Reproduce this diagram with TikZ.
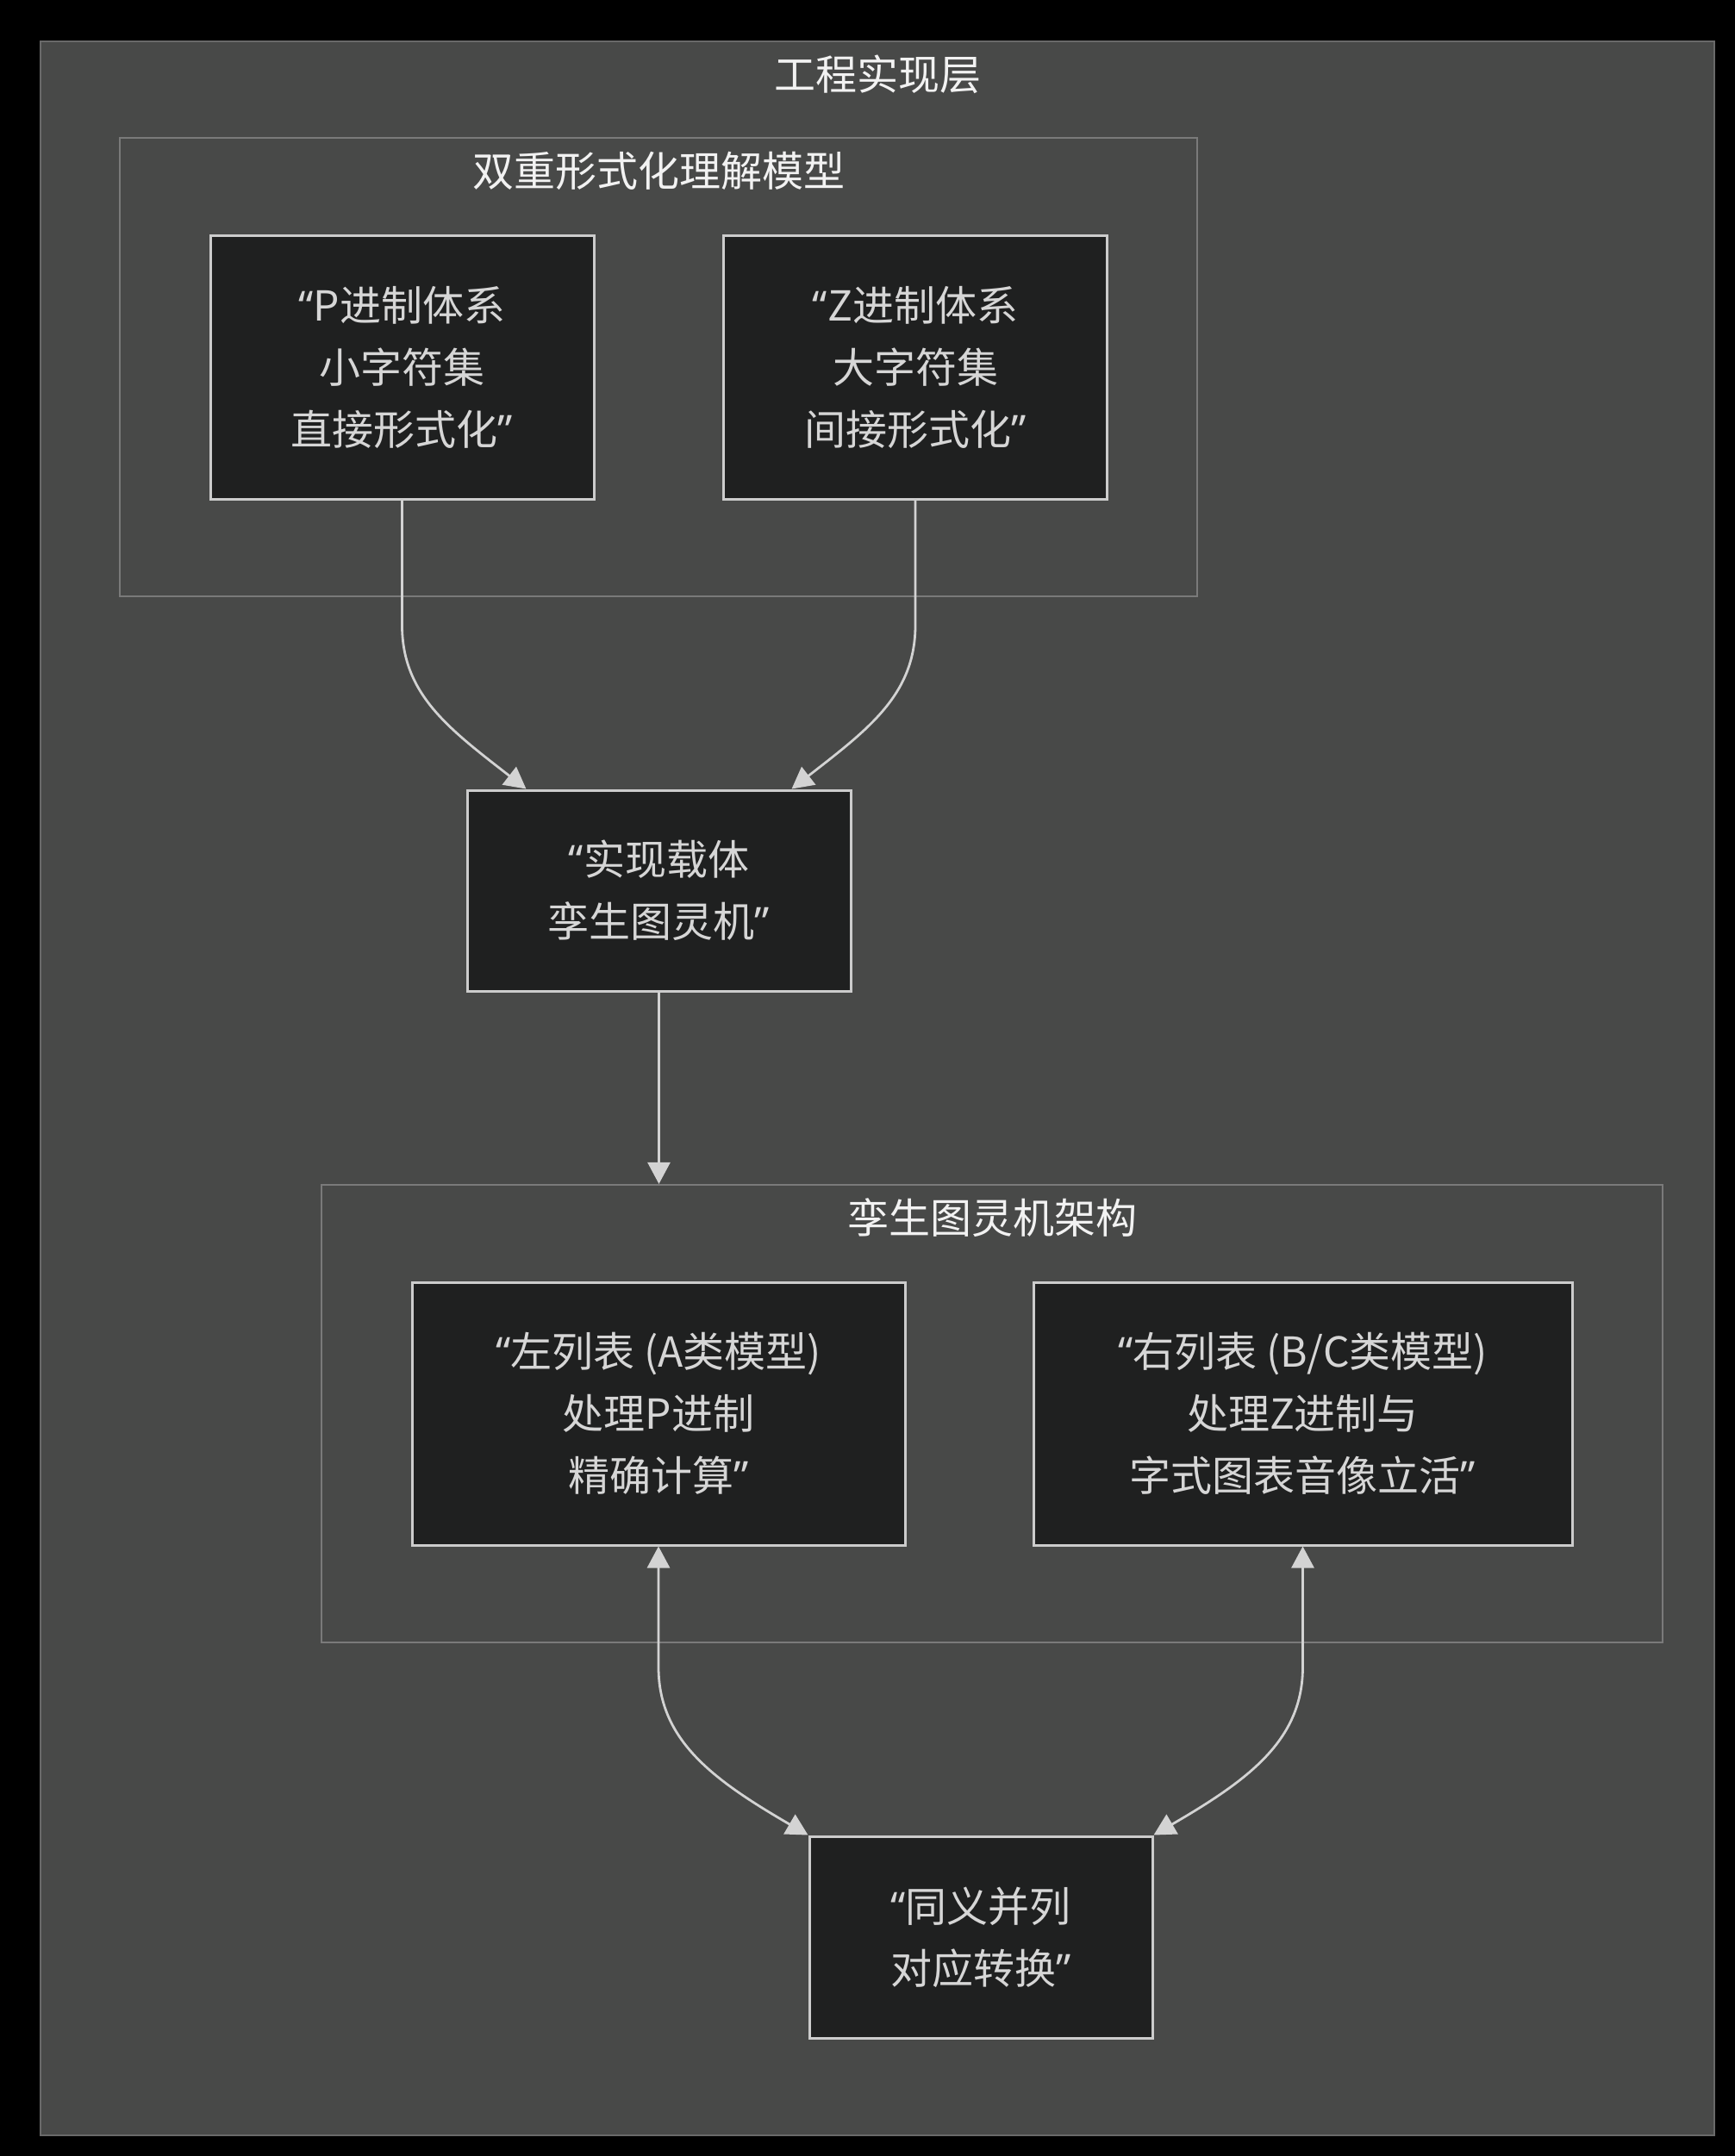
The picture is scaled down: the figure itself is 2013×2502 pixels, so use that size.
\documentclass[tikz,border=0pt]{standalone}
\usepackage{fontspec}
\setmainfont{Noto Sans CJK SC}
\newfontfamily\quotefont{Noto Sans}
\newcommand\myopenq{{\quotefont “}}
\newcommand\mycloseq{{\quotefont ”}}
\usetikzlibrary{arrows.meta,calc}
\definecolor{pagebg}{HTML}{000000}
\definecolor{layerfill}{HTML}{484948}
\definecolor{layerline}{HTML}{696969}
\definecolor{clusterline}{HTML}{7A7A7A}
\definecolor{boxfill}{HTML}{1F2020}
\definecolor{boxline}{HTML}{CCCCCC}
\definecolor{boxtext}{HTML}{D6D6D6}
\definecolor{titletext}{HTML}{F2F2F2}
\definecolor{edgecol}{HTML}{D3D3D3}
\tikzset{
  txt/.style={font=\fontsize{24pt}{36pt}\selectfont},
  layer/.style={draw=layerline, line width=1pt, fill=layerfill, inner sep=0pt},
  cluster/.style={draw=clusterline, line width=1.1pt, fill=layerfill, inner sep=0pt},
  box/.style={txt, draw=boxline, line width=1.5pt, fill=boxfill, text=boxtext, align=center, inner sep=0pt},
  ttl/.style={txt, text=titletext, inner sep=0pt},
  edge/.style={draw=edgecol, line width=1.4pt, -{Triangle[length=12.5pt,width=13pt]}},
  biedge/.style={draw=edgecol, line width=1.4pt, {Triangle[length=12.5pt,width=13pt]}-{Triangle[length=12.5pt,width=13pt]}}
}
\begin{document}
\begin{tikzpicture}[x=0.5pt,y=-0.5pt]
\useasboundingbox[fill=pagebg] (0,0) rectangle (2013,2502);
% outer layer
\node[layer, minimum width=971pt, minimum height=1215pt] (outer) at (1018,1263) {};
\node[ttl] (outerT) at (1018,86) {工程实现层};
% cluster 1
\node[cluster, minimum width=625pt, minimum height=266pt] (c1) at (764,426) {};
\node[ttl] (c1T) at (764,198) {双重形式化理解模型};
% cluster 2
\node[cluster, minimum width=778pt, minimum height=265.5pt] (c2) at (1151,1640.5) {};
\node[ttl] (c2T) at (1151,1413) {孪生图灵机架构};
% nodes
\node[box, minimum width=222.5pt, minimum height=153pt] (P) at (466.5,426) {\myopenq P进制体系\\小字符集\\直接形式化\mycloseq};
\node[box, minimum width=222.5pt, minimum height=153pt] (Z) at (1062,426) {\myopenq Z进制体系\\大字符集\\间接形式化\mycloseq};
\node[box, minimum width=222.5pt, minimum height=116.5pt] (R) at (764.5,1033.5) {\myopenq 实现载体\\孪生图灵机\mycloseq};
\node[box, minimum width=286pt, minimum height=152.5pt] (L) at (764,1640.5) {\myopenq 左列表 (A类模型)\\处理P进制\\精确计算\mycloseq};
\node[box, minimum width=312.5pt, minimum height=152.5pt] (RR) at (1511.5,1640.5) {\myopenq 右列表 (B/C类模型)\\处理Z进制与\\字式图表音像立活\mycloseq};
\node[box, minimum width=199pt, minimum height=117pt] (S) at (1138,2248) {\myopenq 同义并列\\对应转换\mycloseq};
% edges
\draw[edge] (P.south) -- ++(0,145) .. controls +(0,80) and +(-90,-70) .. ($(R.north west)+(70,0)$);
\draw[edge] (Z.south) -- ++(0,145) .. controls +(0,80) and +(90,-70) .. ($(R.north east)+(-70,0)$);
\draw[edge] (R.south) -- (R.south |- c2.north);
\draw[biedge] (L.south) -- ++(0,140) .. controls +(0,85) and +(-110,-64) .. (S.north west);
\draw[biedge] (RR.south) -- ++(0,140) .. controls +(0,85) and +(110,-64) .. (S.north east);
\end{tikzpicture}
\end{document}
